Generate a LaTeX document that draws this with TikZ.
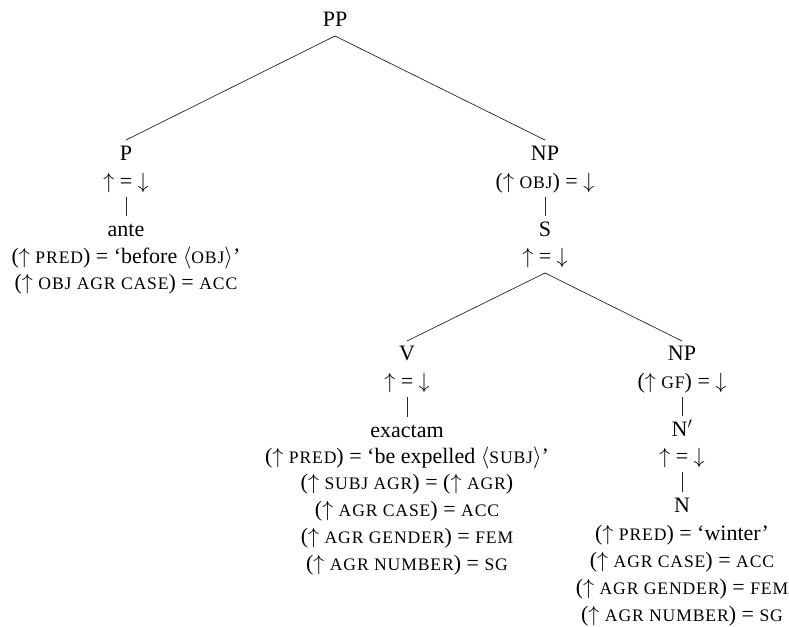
\RequirePackage{fix-cm}
\documentclass[tikz,border=0pt]{standalone}
\usepackage{fontspec}
\setmainfont{Liberation Serif}
\newfontfamily\scfont[Scale=0.8,LetterSpace=5]{Liberation Serif}
\newcommand{\sca}[1]{{\scfont #1}}
\newcommand{\upa}{$\uparrow$}
\newcommand{\dna}{$\downarrow$}
\newcommand{\lang}{$\langle$}
\newcommand{\rang}{$\rangle$}
\tikzset{
  lab/.style={anchor=base,inner sep=0pt,outer sep=0pt,font=\fontsize{22pt}{26pt}\selectfont},
  edge/.style={line width=0.7pt,draw=black!85}
}
\begin{document}
\begin{tikzpicture}[x=1pt,y=-1pt]
\useasboundingbox (0,0) rectangle (789,626);
% root
\node[lab] (PP) at (335,27) {PP};
% P branch
\node[lab] (P) at (126,160) {P};
\node[lab] (Pann) at (126,188) {\upa{} = \dna};
\node[lab] (ante) at (126,236) {ante};
\node[lab] (Pa1) at (126,263) {(\upa\ \sca{PRED}) = ‘before \lang\sca{OBJ}\rang’};
\node[lab] (Pa2) at (126,289) {(\upa\ \sca{OBJ AGR CASE}) = \sca{ACC}};
% NP branch
\node[lab] (NP) at (545,160) {NP};
\node[lab] (NPann) at (545,188) {(\upa\ \sca{OBJ}) = \dna};
\node[lab] (S) at (545,236) {S};
\node[lab] (Sann) at (545,263) {\upa{} = \dna};
% V
\node[lab] (V) at (407,360) {V};
\node[lab] (Vann) at (407,388) {\upa{} = \dna};
\node[lab] (ex) at (407,437) {exactam};
\node[lab] (Va1) at (407,463) {(\upa\ \sca{PRED}) = ‘be expelled \lang\sca{SUBJ}\rang’};
\node[lab] (Va2) at (407,489) {(\upa\ \sca{SUBJ AGR}) = (\upa\ \sca{AGR})};
\node[lab] (Va3) at (407,516) {(\upa\ \sca{AGR CASE}) = \sca{ACC}};
\node[lab] (Va4) at (407,543) {(\upa\ \sca{AGR GENDER}) = \sca{FEM}};
\node[lab] (Va5) at (407,570) {(\upa\ \sca{AGR NUMBER}) = \sca{SG}};
% NP2
\node[lab] (NPb) at (682,360) {NP};
\node[lab] (NPbann) at (682,388) {(\upa\ \sca{GF}) = \dna};
\node[lab] (Nbar) at (682,436) {N$'$};
\node[lab] (Nbarann) at (682,463) {\upa{} = \dna};
\node[lab] (N) at (682,512) {N};
\node[lab] (Na1) at (682,540) {(\upa\ \sca{PRED}) = ‘winter’};
\node[lab] (Na2) at (682,567) {(\upa\ \sca{AGR CASE}) = \sca{ACC}};
\node[lab] (Na3) at (682,594) {(\upa\ \sca{AGR GENDER}) = \sca{FEM}};
\node[lab] (Na4) at (682,621) {(\upa\ \sca{AGR NUMBER}) = \sca{SG}};
% edges
\draw[edge] ([yshift=-9pt]PP.base) -- ([yshift=20pt]P.base);
\draw[edge] ([yshift=-9pt]PP.base) -- ([yshift=20pt]NP.base);
\draw[edge] ([yshift=-9pt]Pann.base) -- ([yshift=20pt]ante.base);
\draw[edge] ([yshift=-9pt]NPann.base) -- ([yshift=20pt]S.base);
\draw[edge] ([yshift=-10pt]Sann.base) -- ([yshift=19pt]V.base);
\draw[edge] ([yshift=-10pt]Sann.base) -- ([yshift=19pt]NPb.base);
\draw[edge] ([yshift=-9pt]Vann.base) -- ([yshift=20pt]ex.base);
\draw[edge] ([yshift=-9pt]NPbann.base) -- ([yshift=20pt]Nbar.base);
\draw[edge] ([yshift=-9pt]Nbarann.base) -- ([yshift=20pt]N.base);
\end{tikzpicture}
\end{document}
